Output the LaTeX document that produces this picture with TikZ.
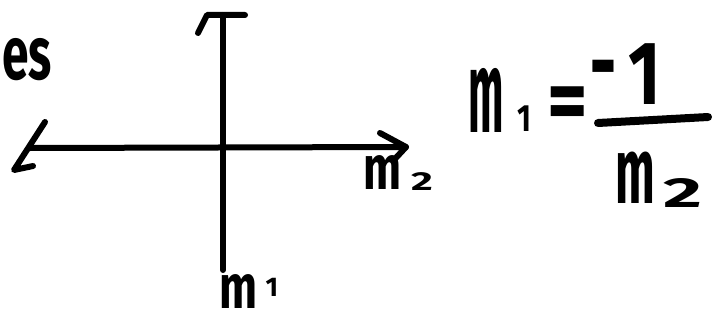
\documentclass[tikz,border=0pt]{standalone}
\usepackage{fontspec}
\setmainfont{Fira Sans}
\begin{document}
\begin{tikzpicture}[x=1pt,y=-1pt,
  ink/.style={line width=6pt,line cap=round,line join=round,black},
  glyph/.style={inner sep=0pt,outer sep=0pt,font=\fontsize{100}{100}\selectfont\bfseries}]
\useasboundingbox (0,0) rectangle (720,321);
% axis end points
\coordinate (L) at (30,148);
\coordinate (R) at (406,147);
\coordinate (T) at (223,15);
\coordinate (B) at (223,270);
% axes
\draw[ink] (L) -- (R);
\draw[ink] (T) -- (B);
% arrowheads (hand-drawn)
\draw[ink] (380,133) -- (R) -- (393,161);
\draw[ink] (45,122) -- (14,170) -- (33,166);
\draw[ink] (198,33) -- (207,15) -- (T) -- (245,15);
% partial word at the top left
\node[glyph,anchor=west,xscale=0.48,yscale=0.75] (es) at (2,60) {es};
% axis labels
\node[glyph,xscale=0.45,yscale=0.62] (m2a) at (383,173) {m};
\node[glyph,xscale=0.42,yscale=0.26] (s2a) at (422,182) {2};
\node[glyph,xscale=0.45,yscale=0.62] (m1a) at (239,292) {m};
\node[glyph,scale=0.27] (s1a) at (272,287) {1};
% equation m1 = -1/m2
\node[glyph,xscale=0.42,yscale=1.17] (em1) at (486,100) {m};
\node[glyph,xscale=0.3,yscale=0.38] (es1) at (524,119) {1};
\node[glyph,xscale=0.78,yscale=0.9] (eq) at (568,109) {=};
\node[glyph,xscale=0.5,yscale=1] (num-minus) at (603,80) {−};
\node[glyph,xscale=0.7,yscale=0.9] (num-one) at (645,74) {1};
\draw[ink,line width=8pt] (598,123) -- (708,117);
\node[glyph,xscale=0.47,yscale=0.94] (em2) at (635,178) {m};
\node[glyph,xscale=0.75,yscale=0.42] (es2) at (683,193) {2};
\end{tikzpicture}
\end{document}
